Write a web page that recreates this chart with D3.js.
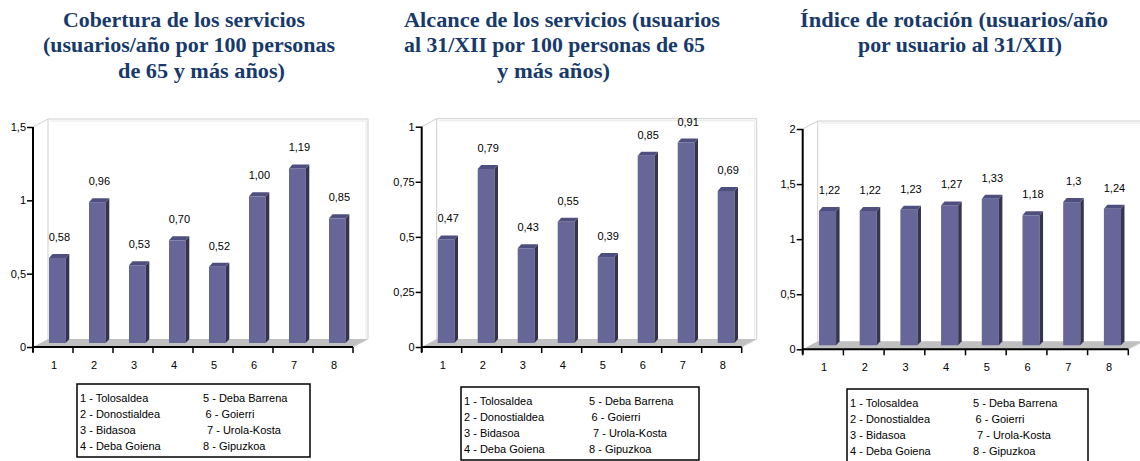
<!DOCTYPE html>
<html>
<head>
<meta charset="utf-8">
<script src="https://cdn.jsdelivr.net/npm/d3@7"></script>
<style>
  html, body { margin: 0; padding: 0; background: #ffffff; }
  svg { display: block; }
</style>
</head>
<body>
<svg id="chart" width="1140" height="461"></svg>
<script>
// Comarcas de Gipuzkoa (numbered 1-8 on the horizontal axis)
const categories = ["1", "2", "3", "4", "5", "6", "7", "8"];
const regionNames = ["Tolosaldea", "Donostialdea", "Bidasoa", "Deba Goiena",
                     "Deba Barrena", "Goierri", "Urola-Kosta", "Gipuzkoa"];

// Cobertura: usuarios/año por 100 personas de 65 y más años
const coverage = [0.58, 0.96, 0.53, 0.70, 0.52, 1.00, 1.19, 0.85];
// Alcance: usuarios al 31/XII por 100 personas de 65 y más años
const reach = [0.47, 0.79, 0.43, 0.55, 0.39, 0.85, 0.91, 0.69];
// Índice de rotación: usuarios/año por usuario al 31/XII
const rotation = [1.22, 1.22, 1.23, 1.27, 1.33, 1.18, 1.3, 1.24];

const coverageTicks = [0, 0.5, 1, 1.5];
const reachTicks = [0, 0.25, 0.5, 0.75, 1];
const rotationTicks = [0, 0.5, 1, 1.5, 2];

const coverageTitle = ["Cobertura de los servicios",
                       "(usuarios/año por 100 personas",
                       "de 65 y más años)"];
const reachTitle = ["Alcance de los servicios (usuarios",
                    "al 31/XII por 100 personas de 65",
                    "y más años)"];
const rotationTitle = ["Índice de rotación (usuarios/año",
                       "por usuario al 31/XII)"];

const svg = d3.select("#chart");
const comma = s => s.replace(".", ",");

const panels = [
  {
    values: coverage, ticks: coverageTicks, title: coverageTitle,
    fmt: v => comma(d3.format(".2f")(v)),
    axisX: 33, xEnd: 353, y0: 347, yTop: 127,
    titleLines: [{x: 63, w: 242}, {x: 43, w: 292}, {x: 118, w: 167}],
    legend: {x: 77, y: 384, w: 233, h: 73, col2: 126}
  },
  {
    values: reach, ticks: reachTicks, title: reachTitle,
    fmt: v => comma(d3.format(".2f")(v)),
    axisX: 421.7, xEnd: 741.7, y0: 347, yTop: 126.7,
    titleLines: [{x: 404, w: 316}, {x: 404, w: 301}, {x: 497, w: 113}],
    legend: {x: 461, y: 387, w: 238, h: 73, col2: 128}
  },
  {
    values: rotation, ticks: rotationTicks, title: rotationTitle,
    fmt: v => comma(String(v)),
    axisX: 802.7, xEnd: 1128.3, y0: 349.3, yTop: 129,
    titleLines: [{x: 800, w: 308}, {x: 858, w: 204}],
    legend: {x: 847, y: 389, w: 241, h: 73, col2: 126}
  }
];

const depth = {dx: 15, dy: -8};      // floor / back wall offset
const barShift = {dx: 0, dy: -4};    // plane the columns stand on
const side = {dx: 3.5, dy: -4};      // column thickness
const colors = {front: "#666699", side: "#35354f", top: "#4f4f7f",
                floor: "#c0c0c0", wall: "#cfcfcf", title: "#173a6b"};
const titleBaselines = [26.5, 52, 77.5];
const col2Nudge = [0, 2.5, 4, 0];

panels.forEach(p => {
  const g = svg.append("g");
  const maxV = p.ticks[p.ticks.length - 1];

  const x = d3.scaleBand().domain(categories).range([p.axisX, p.xEnd]);
  const y = d3.scaleLinear().domain([0, maxV]).range([p.y0, p.yTop]);
  const bw = x.bandwidth();

  // Title
  p.title.forEach((line, i) => {
    g.append("text")
      .attr("x", p.titleLines[i].x)
      .attr("y", titleBaselines[i])
      .attr("textLength", p.titleLines[i].w)
      .attr("lengthAdjust", "spacingAndGlyphs")
      .attr("font-family", "'Liberation Serif', 'Times New Roman', serif")
      .attr("font-weight", "bold")
      .attr("font-size", 21.5)
      .attr("fill", colors.title)
      .text(line);
  });

  // Floor
  const fl = [[p.axisX, p.y0], [p.xEnd, p.y0],
              [p.xEnd + depth.dx, p.y0 + depth.dy], [p.axisX + depth.dx, p.y0 + depth.dy]];
  g.append("polygon").attr("points", fl.map(d => d.join(",")).join(" "))
    .attr("fill", colors.floor);

  // Back wall outline
  const bx0 = p.axisX + depth.dx, bx1 = p.xEnd + depth.dx;
  const by0 = p.y0 + depth.dy, by1 = p.yTop + depth.dy;
  const wall = g.append("g").attr("fill", "none").attr("stroke", colors.wall).attr("stroke-width", 1);
  wall.append("path").attr("d", `M${p.axisX},${p.yTop}L${bx0},${by1}L${bx1},${by1}L${bx1},${by0}L${p.xEnd},${p.y0}`);
  wall.append("path").attr("d", `M${bx0},${by1}L${bx0},${by0}`);
  wall.append("path").attr("d", `M${bx0 + 2},${by1 + 2}L${bx1 - 2},${by1 + 2}L${bx1 - 2},${by0}`)
    .attr("stroke", "#e8e8e8");

  // Columns
  const bars = g.selectAll("g.bar").data(p.values).join("g").attr("class", "bar");
  bars.each(function(v, i) {
    const b = d3.select(this);
    const w = bw * 0.42;
    const x0 = x(categories[i]) + bw * 0.4 + barShift.dx;
    const yb = y(0) + barShift.dy;
    const yt = y(v) + barShift.dy;
    b.append("rect").attr("x", x0).attr("y", yt).attr("width", w).attr("height", yb - yt)
      .attr("fill", colors.front);
    b.append("polygon").attr("points", [
      [x0 + w, yt], [x0 + w + side.dx, yt + side.dy], [x0 + w + side.dx, yb + side.dy], [x0 + w, yb]
    ].map(d => d.join(",")).join(" ")).attr("fill", colors.side);
    b.append("polygon").attr("points", [
      [x0, yt], [x0 + side.dx, yt + side.dy], [x0 + w + side.dx, yt + side.dy], [x0 + w, yt]
    ].map(d => d.join(",")).join(" ")).attr("fill", colors.top);
    b.append("text")
      .attr("x", x0 + w / 2 + 2)
      .attr("y", yt - 17)
      .attr("text-anchor", "middle")
      .attr("font-family", "'Liberation Sans', Arial, sans-serif")
      .attr("font-size", 11)
      .attr("fill", "#000")
      .text(p.fmt(v));
  });

  // Y axis
  const yAxis = g.append("g").attr("transform", `translate(${p.axisX},0)`)
    .call(d3.axisLeft(y).tickValues(p.ticks).tickSize(6).tickSizeOuter(0)
      .tickFormat(v => comma(String(v))));
  yAxis.select(".domain").remove();
  yAxis.selectAll(".tick line").attr("stroke", "#000").attr("stroke-width", 1.5);
  yAxis.selectAll(".tick text").attr("x", -7)
    .attr("font-family", "'Liberation Sans', Arial, sans-serif")
    .attr("font-size", 11).attr("fill", "#000");
  g.append("line").attr("x1", p.axisX).attr("x2", p.axisX)
    .attr("y1", p.y0 + 5).attr("y2", p.yTop)
    .attr("stroke", "#000").attr("stroke-width", 2);

  // X axis
  g.append("line").attr("x1", p.axisX).attr("x2", p.xEnd)
    .attr("y1", p.y0).attr("y2", p.y0)
    .attr("stroke", "#000").attr("stroke-width", 2);
  const bounds = categories.map(c => x(c)).concat([p.xEnd]);
  g.selectAll("line.xtick").data(bounds).join("line").attr("class", "xtick")
    .attr("x1", d => d).attr("x2", d => d)
    .attr("y1", p.y0).attr("y2", p.y0 + 6)
    .attr("stroke", "#000").attr("stroke-width", 1.5);
  g.selectAll("text.xlab").data(categories).join("text").attr("class", "xlab")
    .attr("x", c => x(c) + bw / 2 + 1)
    .attr("y", p.y0 + 22)
    .attr("text-anchor", "middle")
    .attr("font-family", "'Liberation Sans', Arial, sans-serif")
    .attr("font-size", 11).attr("fill", "#000")
    .text(c => c);

  // Legend
  const L = p.legend;
  const lg = g.append("g");
  lg.append("rect").attr("x", L.x).attr("y", L.y).attr("width", L.w).attr("height", L.h)
    .attr("fill", "#fff").attr("stroke", "#000").attr("stroke-width", 1.5);
  regionNames.forEach((name, i) => {
    const col = i < 4 ? 0 : 1, row = i % 4;
    lg.append("text")
      .attr("x", L.x + 3 + (col ? L.col2 - 3 + col2Nudge[row] : 0))
      .attr("y", L.y + 17.5 + row * 16)
      .attr("font-family", "'Liberation Sans', Arial, sans-serif")
      .attr("font-size", 11)
      .attr("fill", "#000")
      .text(`${categories[i]} - ${name}`);
  });
});
</script>
</body>
</html>
